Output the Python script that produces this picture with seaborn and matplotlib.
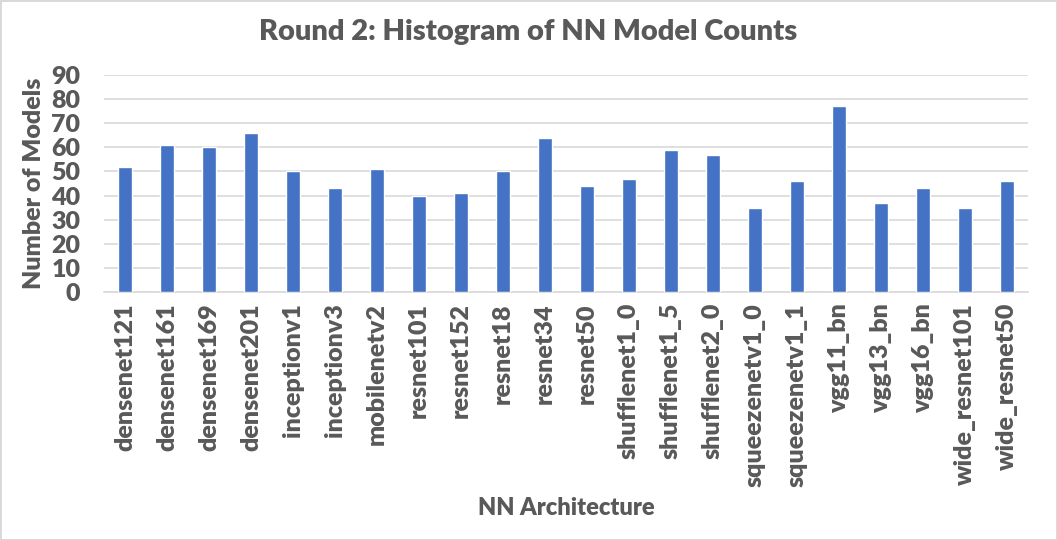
import matplotlib
matplotlib.use("Agg")
import matplotlib.pyplot as plt
import seaborn as sns
import pandas as pd

# bar heights
architectures = ["densenet121", "densenet161", "densenet169", "densenet201",
                 "inceptionv1", "inceptionv3", "mobilenetv2", "resnet101",
                 "resnet152", "resnet18", "resnet34", "resnet50",
                 "shufflenet1_0", "shufflenet1_5", "shufflenet2_0",
                 "squeezenetv1_0", "squeezenetv1_1", "vgg11_bn", "vgg13_bn",
                 "vgg16_bn", "wide_resnet101", "wide_resnet50"]
counts = [52, 61, 60, 66, 50, 43, 51, 40, 41, 50, 64, 44,
          47, 59, 57, 35, 46, 77, 37, 43, 35, 46]
y_ticks = [0, 10, 20, 30, 40, 50, 60, 70, 80, 90]

df = pd.DataFrame({"arch": architectures, "count": counts})

sns.set_style("white")
plt.rcParams["font.family"] = ["Lato", "DejaVu Sans"]
grey = "#595959"
wt = "heavy"

fig = plt.figure(figsize=(10.57, 5.4), dpi=100)
ax = fig.add_axes([104 / 1057, 1 - 292 / 540, (1028 - 104) / 1057, (292 - 75) / 540])

sns.barplot(data=df, x="arch", y="count", color="#4472C4", width=0.31,
            saturation=1, ax=ax, zorder=3)

ax.set_ylim(0, 90)
ax.set_yticks(y_ticks)
ax.set_xlim(-0.5, len(architectures) - 0.5)
ax.grid(axis="y", color="#d9d9d9", linewidth=1.2, zorder=0)
for s in ["top", "right", "left"]:
    ax.spines[s].set_visible(False)
ax.spines["bottom"].set_color("#d9d9d9")
ax.spines["bottom"].set_linewidth(1.2)
ax.tick_params(axis="both", length=0, colors=grey)
ax.tick_params(axis="y", labelsize=18, pad=17)
ax.tick_params(axis="x", labelsize=18, rotation=90, pad=8)
for lbl in ax.get_xticklabels() + ax.get_yticklabels():
    lbl.set_fontweight(wt)

ax.set_xlabel("NN Architecture", fontsize=17, fontweight=wt, color=grey, va="center")
ax.xaxis.set_label_coords((566 - 104) / (1028 - 104), -(508 - 292) / 217)
ax.set_ylabel("Number of Models", fontsize=18, fontweight=wt, color=grey,
              va="center", ha="center")
ax.yaxis.set_label_coords(-(104 - 34) / 924, 0.5)

fig.text(0.5, 1 - 32 / 540, "Round 2: Histogram of NN Model Counts",
         ha="center", va="center", fontsize=21, fontweight=wt, color=grey)

fig.patch.set_edgecolor("#d9d9d9")
fig.patch.set_linewidth(2)

fig.savefig("out.png", dpi=100)
